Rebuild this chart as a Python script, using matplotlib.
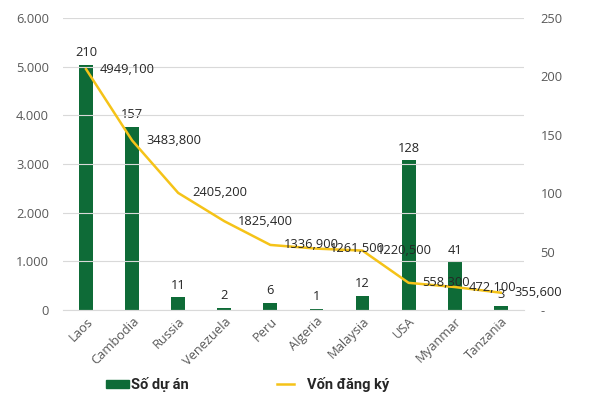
import numpy as np
import matplotlib
matplotlib.use("Agg")
import matplotlib.pyplot as plt
from matplotlib.ticker import FuncFormatter

plt.rcParams['font.family'] = ['Open Sans', 'DejaVu Sans']

countries = ["Laos", "Cambodia", "Russia", "Venezuela", "Peru", "Algeria",
             "Malaysia", "USA", "Myanmar", "Tanzania"]
so_du_an = [210, 157, 11, 2, 6, 1, 12, 128, 41, 3]
von_dang_ky = [4949.1, 3483.8, 2405.2, 1825.4, 1336.9, 1261.5, 1220.5, 558.3, 472.1, 355.6]
von_labels = ["4949,100", "3483,800", "2405,200", "1825,400", "1336,900",
              "1261,500", "1220,500", "558,300", "472,100", "355,600"]

green = "#0e6b37"
yellow = "#f5c318"
grey_txt = "#595959"
fs = 9.3

fig = plt.figure(figsize=(6, 4), dpi=100)
ax = fig.add_axes([0.105, 0.225, 0.768, 0.73])
ax2 = ax.twinx()

x = np.arange(len(countries))

# bars on the right axis
ax2.bar(x, so_du_an, width=0.3, color=green, zorder=2)
for xi, v in zip(x, so_du_an):
    ax2.annotate(str(v), (xi, v), xytext=(0, 4), textcoords="offset points",
                 ha="center", va="bottom", fontsize=fs, color="#262626")

# line on the left axis, drawn above the bars
ax.set_zorder(ax2.get_zorder() + 1)
ax.patch.set_visible(False)
ax.plot(x, von_dang_ky, color=yellow, lw=1.8, zorder=3)
for xi, v, lab in zip(x, von_dang_ky, von_labels):
    ax.annotate(lab, (xi, v), xytext=(10, 0), textcoords="offset points",
                ha="left", va="center", fontsize=fs, color="#262626")

ax.set_xlim(-0.5, len(countries) - 0.5)
ax.set_ylim(0, 6000)
ax2.set_ylim(0, 250)
ax.set_yticks(np.arange(0, 6001, 1000))
ax2.set_yticks(np.arange(0, 251, 50))
ax.yaxis.set_major_formatter(FuncFormatter(lambda v, p: f"{int(v):,}".replace(",", ".")))
ax2.yaxis.set_major_formatter(FuncFormatter(lambda v, p: "-" if v == 0 else f"{int(v)}"))

ax.grid(axis="y", color="#d9d9d9", lw=0.8)
ax.set_axisbelow(True)
for a in (ax, ax2):
    for s in a.spines.values():
        s.set_visible(False)
    a.tick_params(length=0, labelsize=fs, colors=grey_txt)
ax.spines["bottom"].set_visible(True)
ax.spines["bottom"].set_color("#d9d9d9")
ax.tick_params(axis="y", pad=10)
ax2.tick_params(axis="y", pad=12)

ax.set_xticks(x)
ax.set_xticklabels(countries, rotation=45, ha="right", rotation_mode="anchor")

# legend below the chart
leg_font = ["Roboto", "DejaVu Sans"]
fig.patches.append(plt.Rectangle((0.177, 0.029), 0.038, 0.02, transform=fig.transFigure,
                                 color=green))
fig.text(0.218, 0.039, "Số dự án", fontsize=10.5, fontweight="bold", va="center",
         family=leg_font, color="#262626")
fig.lines.append(plt.Line2D([0.462, 0.49], [0.039, 0.039], transform=fig.transFigure,
                            color=yellow, lw=1.8))
fig.text(0.512, 0.039, "Vốn đăng ký", fontsize=10.5, fontweight="bold", va="center",
         family=leg_font, color="#262626")

fig.savefig("out.png", dpi=100)
